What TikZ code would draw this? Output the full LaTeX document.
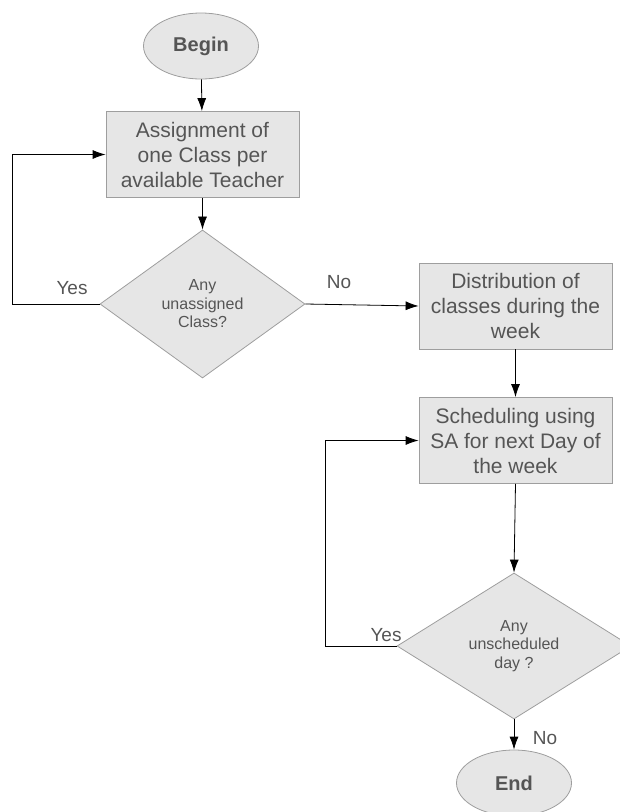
\documentclass[tikz,border=0pt]{standalone}
\usepackage{fontspec}
\setmainfont{Liberation Sans}
\usetikzlibrary{shapes, arrows.meta, positioning}
\definecolor{boxfill}{HTML}{E6E6E6}
\definecolor{boxdraw}{HTML}{9E9E9E}
\definecolor{txt}{HTML}{555555}
\tikzstyle{term} = [ellipse, draw=boxdraw, fill=boxfill, text=txt, line width=0.8pt, minimum width=115pt, minimum height=66pt, inner sep=0pt, font=\bfseries\fontsize{20}{24}\selectfont]
\tikzstyle{proc} = [rectangle, draw=boxdraw, fill=boxfill, text=txt, line width=0.8pt, minimum width=193pt, minimum height=86pt, inner sep=0pt, align=center, font=\fontsize{21}{25}\selectfont]
\tikzstyle{decis} = [diamond, draw=boxdraw, fill=boxfill, text=txt, line width=0.8pt, inner sep=0pt, align=center, font=\fontsize{16}{18.5}\selectfont]
\tikzstyle{line} = [draw, line width=0.8pt, -{Latex[length=13pt, width=9pt]}]
\tikzstyle{lbl} = [text=txt, font=\fontsize{19}{22}\selectfont]
\begin{document}
\begin{tikzpicture}[x=1pt, y=-1pt]
			\useasboundingbox (0,0) rectangle (620,812);
			\node [term] (begin) at (201, 46) {Begin};
			\node [proc] (assign) at (202.5, 154.5) {Assignment of\\one Class per\\available Teacher};
			\node [decis, minimum width=205pt, minimum height=148pt] (anyclass) at (202.5, 304) {Any\\unassigned\\Class?};
			\node [proc] (distrib) at (515.5, 306) {Distribution of\\classes during the\\week};
			\node [proc] (sched) at (515.5, 440.5) {Scheduling using\\SA for next Day of\\the week};
			\node [decis, minimum width=234pt, minimum height=146pt] (anyday) at (514, 646) {Any\\unscheduled\\day ?};
			\node [term] (end) at (514, 783) {End};
			
			\coordinate (loopA) at (12.5, 304);
			\coordinate (loopB) at (325.5, 646);
			
			\node [lbl] (yesA) at (72, 288) {Yes};
			\node [lbl] (noA) at (339, 282) {No};
			\node [lbl] (yesB) at (386, 635) {Yes};
			\node [lbl] (noB) at (545, 738) {No};
			
			\path [line] (begin) -- (assign);
			\path [line] (assign) -- (anyclass);
			\path [line] (anyclass.west) -- (loopA) |- (assign.west);
			\path [line] (anyclass.east) -- (distrib.west);
			\path [line] (distrib) -- (sched);
			\path [line] (sched.south) -- (anyday.north);
			\path [line] (anyday.west) -- (loopB) |- (sched.west);
			\path [line] (anyday) -- (end);
		\end{tikzpicture}
\end{document}
